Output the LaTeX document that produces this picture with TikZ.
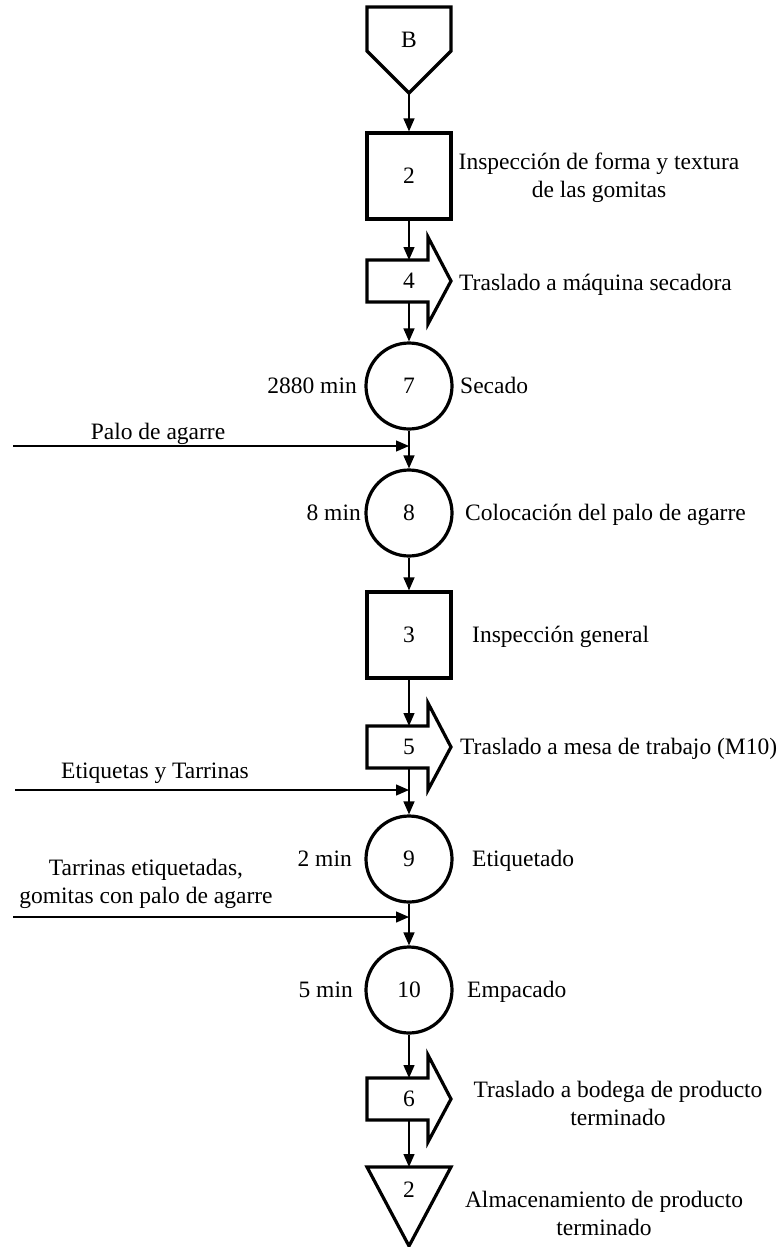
\documentclass[tikz,border=0pt]{standalone}
\usepackage{fontspec}
\setmainfont{LiberationSerif}[Extension=.ttf, UprightFont=*-Regular, BoldFont=*-Bold]
\usetikzlibrary{arrows.meta}
\begin{document}
\begin{tikzpicture}[x=1pt,y=-1pt,
  every node/.style={inner sep=0pt, font=\rmfamily\fontsize{23.5}{28}\selectfont},
  shapeline/.style={line width=3.2pt, line join=miter},
  flow/.style={line width=1.3pt, -{Triangle[length=13pt,width=11pt]}},
  opbox/.style={draw, shapeline, rectangle, minimum width=84pt, minimum height=86pt},
  opcirc/.style={draw, shapeline, circle, minimum size=86pt},
  transport/.pic={
    \draw[shapeline] (-42,-21) -- (19,-21) -- (19,-44) -- (42,0) -- (19,43)
      -- (19,21) -- (-42,21) -- cycle;
    \node at (0,0) {#1};
    \coordinate (-top) at (0,-21);
    \coordinate (-bot) at (0,21);
  }]
\useasboundingbox (0,0) rectangle (781,1247);

% connector symbol B
\draw[shapeline] (367,7) -- (451,7) -- (451,51) -- (409,93) -- (367,51) -- cycle;
\node (conB) at (409,40) {B};
\coordinate (conBbot) at (409,93);

% operations, inspections, transports
\node[opbox] (i2) at (409,176) {2};
\pic (t4) at (409,281) {transport=4};
\node[opcirc] (o7) at (409,386) {7};
\node[opcirc] (o8) at (409,513) {8};
\node[opbox] (i3) at (409,635) {3};
\pic (t5) at (409,747) {transport=5};
\node[opcirc] (o9) at (409,859) {9};
\node[opcirc] (o10) at (409,990) {10};
\pic (t6) at (409,1099) {transport=6};

% storage
\draw[shapeline] (367,1167) -- (451,1167) -- (409,1246) -- cycle;
\node (st2) at (409,1190) {2};
\coordinate (st2top) at (409,1167);

% main flow
\draw[flow] (conBbot) -- (i2.north);
\draw[flow] (i2.south) -- (t4-top);
\draw[flow] (t4-bot) -- (o7.north);
\draw[flow] (o7.south) -- (o8.north);
\draw[flow] (o8.south) -- (i3.north);
\draw[flow] (i3.south) -- (t5-top);
\draw[flow] (t5-bot) -- (o9.north);
\draw[flow] (o9.south) -- (o10.north);
\draw[flow] (o10.south) -- (t6-top);
\draw[flow] (t6-bot) -- (st2top);

% material inputs
\coordinate (inPalo) at (13,446);
\coordinate (jPalo) at (409,446);
\coordinate (inEtiq) at (15,790);
\coordinate (jEtiq) at (409,790);
\coordinate (inTarr) at (13,917);
\coordinate (jTarr) at (409,917);
\draw[flow] (inPalo) -- (jPalo);
\draw[flow] (inEtiq) -- (jEtiq);
\draw[flow] (inTarr) -- (jTarr);
\node[anchor=base] (lPalo) at (158,439) {Palo de agarre};
\node[anchor=base] (lEtiq) at (155,778) {Etiquetas y Tarrinas};
\node[align=center] (lTarr) at (146,884) {Tarrinas etiquetadas,\\gomitas con palo de agarre};

% step descriptions
\node[align=center] (d2) at (599,178) {Inspección de forma y textura\\de las gomitas};
\node[anchor=base west] (d4) at (459,290) {Traslado a máquina secadora};
\node[anchor=base west] (d7) at (460,393) {Secado};
\node[anchor=base west] (d8) at (465,520) {Colocación del palo de agarre};
\node[anchor=base west] (d3) at (472,642) {Inspección general};
\node[anchor=base west] (d5) at (460,754) {Traslado a mesa de trabajo (M10)};
\node[anchor=base west] (d9) at (472,866) {Etiquetado};
\node[anchor=base west] (d10) at (467,997) {Empacado};
\node[align=center] (d6) at (618,1103) {Traslado a bodega de producto\\terminado};
\node[align=center] (dst) at (604,1213) {Almacenamiento de producto\\terminado};

% times
\node[anchor=base east] (tm7) at (357,393) {2880 min};
\node[anchor=base east] (tm8) at (361,520) {8 min};
\node[anchor=base east] (tm9) at (352,866) {2 min};
\node[anchor=base east] (tm10) at (353,997) {5 min};
\end{tikzpicture}
\end{document}
